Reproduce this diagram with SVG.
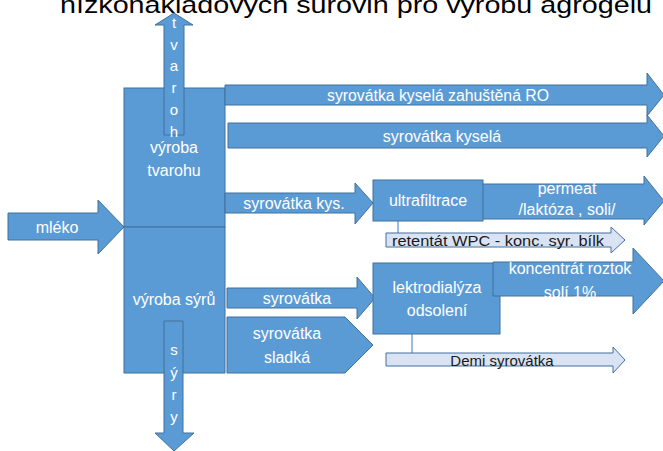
<svg xmlns="http://www.w3.org/2000/svg" width="663" height="451" viewBox="0 0 663 451">
  <style>
    .blk { fill: #5b9bd5; stroke: #41719c; stroke-width: 1; }
    .lite { fill: #dae3f3; stroke: #41719c; stroke-width: 1; }
    .lnk { stroke: #7aa6d6; stroke-width: 1.5; fill: none; }
    text { font-family: "Liberation Sans", "Open Sans", sans-serif; }
    .w { fill: #ffffff; font-size: 16px; text-anchor: middle; dominant-baseline: central; }
    .v { fill: #ffffff; font-size: 15px; text-anchor: middle; dominant-baseline: central; }
    .d { fill: #1a1a1a; font-size: 15px; text-anchor: middle; dominant-baseline: central; }
    .title { fill: #000000; font-size: 24px; }
  </style>

  <!-- heading, partly outside the top edge -->
  <text class="title" x="60" y="13" textLength="592" lengthAdjust="spacingAndGlyphs">nízkonákladových surovin pro výrobu agrogelu</text>

  <g id="connectors">
    <line class="lnk" x1="398" y1="221" x2="398" y2="233"/>
    <line class="lnk" x1="412" y1="334" x2="412" y2="353"/>
  </g>

  <!-- input: milk -->
  <g id="mleko">
    <polygon class="blk" points="8,213 98,213 98,200 124,227 98,254 98,240 8,240"/>
    <text class="w" x="57" y="227">mléko</text>
  </g>

  <!-- curd production -->
  <g id="vyroba-tvarohu">
    <rect class="blk" x="124" y="88" width="101" height="139"/>
    <text class="w" x="174" y="147">výroba</text>
    <text class="w" x="174" y="170">tvarohu</text>
  </g>

  <!-- cheese production -->
  <g id="vyroba-syru">
    <rect class="blk" x="124" y="227" width="101" height="146"/>
    <text class="w" x="174" y="299">výroba sýrů</text>
  </g>

  <!-- output up: curd -->
  <g id="tvaroh">
    <polygon class="blk" points="164,135 164,25 155,25 174,13 193,25 184,25 184,135"/>
    <text class="v" x="174" y="22">t</text>
    <text class="v" x="174" y="44">v</text>
    <text class="v" x="174" y="65">a</text>
    <text class="v" x="174" y="87">r</text>
    <text class="v" x="174" y="109">o</text>
    <text class="v" x="174" y="131">h</text>
  </g>

  <!-- output down: cheese -->
  <g id="syry">
    <polygon class="blk" points="164,321 183,321 183,433 194,433 174,451 155,433 164,433"/>
    <text class="v" x="174" y="349">s</text>
    <text class="v" x="174" y="372">ý</text>
    <text class="v" x="174" y="394">r</text>
    <text class="v" x="174" y="416">y</text>
  </g>

  <g id="syrovatka-kysela-ro">
    <polygon class="blk" points="225,85 647,85 647,73 664,95 647,116 647,105 225,105"/>
    <text class="w" x="438" y="95" textLength="222" lengthAdjust="spacingAndGlyphs">syrovátka kyselá zahuštěná RO</text>
  </g>

  <g id="syrovatka-kysela">
    <polygon class="blk" points="228,123 647,123 647,115 664,136 647,157 647,148 228,148"/>
    <text class="w" x="442" y="136">syrovátka kyselá</text>
  </g>

  <g id="syrovatka-kys">
    <polygon class="blk" points="225,193 355,193 355,183 373,203 355,224 355,213 225,213"/>
    <text class="w" x="294" y="203">syrovátka kys.</text>
  </g>

  <g id="permeat">
    <polygon class="blk" points="482,184 644,184 644,176 664,201 644,225 644,219 482,219"/>
    <text class="w" x="567" y="188">permeat</text>
    <text class="w" x="567" y="209">/laktóza , soli/</text>
  </g>

  <g id="ultrafiltrace">
    <rect class="blk" x="373" y="180" width="110" height="41"/>
    <text class="w" x="428" y="200">ultrafiltrace</text>
  </g>

  <g id="retentat">
    <polygon class="lite" points="386,233 611,233 611,227 625,240 611,253 611,247 386,247"/>
    <text class="d" x="498" y="240" textLength="212" lengthAdjust="spacingAndGlyphs">retentát WPC - konc. syr. bílk</text>
  </g>

  <g id="syrovatka">
    <polygon class="blk" points="227,288 357,288 357,277 375,298 357,319 357,308 227,308"/>
    <text class="w" x="297" y="298">syrovátka</text>
  </g>

  <g id="syrovatka-sladka">
    <polygon class="blk" points="227,317 345,317 373,345 345,373 227,373"/>
    <text class="w" x="287" y="333">syrovátka</text>
    <text class="w" x="287" y="357">sladká</text>
  </g>

  <g id="elektrodialyza">
    <rect class="blk" x="373" y="263" width="127" height="71"/>
    <text class="w" x="437" y="287">lektrodialýza</text>
    <text class="w" x="437" y="310">odsolení</text>
  </g>

  <g id="koncentrat">
    <polygon class="blk" points="493,262 633,262 633,248 664,281 633,314 633,296 493,296"/>
    <text class="w" x="570" y="268">koncentrát roztok</text>
    <text class="w" x="570" y="292">solí 1%</text>
  </g>

  <g id="demi-syrovatka">
    <polygon class="lite" points="386,353 613,353 613,347 625,360 613,373 613,366 386,366"/>
    <text class="d" x="502" y="360">Demi syrovátka</text>
  </g>
</svg>
